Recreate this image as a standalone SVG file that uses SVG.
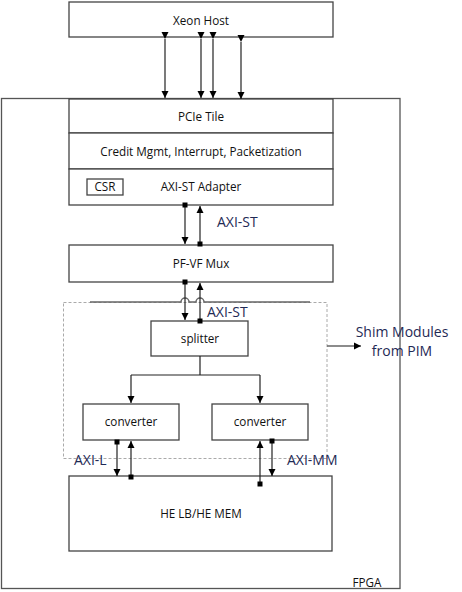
<svg xmlns="http://www.w3.org/2000/svg" width="462" height="592" viewBox="0 0 462 592">
<defs>
<marker id="ah" markerWidth="8" markerHeight="8" refX="7" refY="4" orient="auto" markerUnits="userSpaceOnUse">
<path d="M0,0.5 L7,4 L0,7.5 Z" fill="#000"/>
</marker>
<marker id="sq" markerWidth="6" markerHeight="6" refX="3" refY="3" orient="auto" markerUnits="userSpaceOnUse">
<rect x="0.5" y="0.5" width="5" height="5" fill="#000"/>
</marker>
</defs>
<style>
.box{fill:#fff;stroke:#444;stroke-width:1.3}
.t{font-family:"Open Sans","DejaVu Sans",sans-serif;font-size:11.7px;fill:#111;text-anchor:middle}
.lbl{font-family:"Open Sans","DejaVu Sans",sans-serif;font-size:14px;fill:#1f2a55}
.c{stroke:#222;stroke-width:1.2;fill:none}
.g{stroke:#666;stroke-width:1.5;fill:none}
</style>
<g id="fpga">
<rect x="1.5" y="98.5" width="398.5" height="490" fill="#fff" stroke="#555" stroke-width="1.3"/>
<text x="367" y="587" class="t">FPGA</text>
</g>
<g id="shim">
<rect x="63.5" y="302.5" width="263.5" height="156" fill="none" stroke="#aaa" stroke-width="1" stroke-dasharray="3,2"/>
</g>
<g id="xeon">
<rect class="box" x="69" y="2" width="264" height="35"/>
<text class="t" x="201" y="25">Xeon Host</text>
</g>
<g id="pcie">
<rect class="box" x="69" y="99" width="264" height="34"/>
<text class="t" x="201" y="121">PCIe Tile</text>
</g>
<g id="credit">
<rect class="box" x="69" y="133" width="264" height="36"/>
<text class="t" x="201" y="156">Credit Mgmt, Interrupt, Packetization</text>
</g>
<g id="adapter">
<rect class="box" x="69" y="169" width="264" height="36"/>
<text class="t" x="201" y="191">AXI-ST Adapter</text>
</g>
<g id="csr">
<rect class="box" x="87" y="179" width="36" height="16"/>
<text class="t" x="105" y="191">CSR</text>
</g>
<g id="pfvf">
<rect class="box" x="69" y="245" width="264" height="37"/>
<text class="t" x="201" y="268">PF-VF Mux</text>
</g>
<g id="splitter">
<rect class="box" x="151" y="321" width="97" height="35"/>
<text class="t" x="200" y="343">splitter</text>
</g>
<g id="conv1">
<rect class="box" x="83" y="404" width="96" height="36"/>
<text class="t" x="131" y="426">converter</text>
</g>
<g id="conv2">
<rect class="box" x="212" y="404" width="96" height="36"/>
<text class="t" x="260" y="426">converter</text>
</g>
<g id="he">
<rect class="box" x="69" y="476" width="263" height="75"/>
<text class="t" x="201" y="518">HE LB/HE MEM</text>
</g>
<g id="connectors">
<line class="c" x1="165" y1="39" x2="165" y2="98" marker-start="url(#ah)" marker-end="url(#ah)"/>
<line class="c" x1="201" y1="39" x2="201" y2="98" marker-start="url(#ah)" marker-end="url(#ah)"/>
<line class="c" x1="213" y1="39" x2="213" y2="98" marker-start="url(#ah)" marker-end="url(#ah)"/>
<line class="c" x1="241" y1="42" x2="241" y2="99" marker-start="url(#ah)" marker-end="url(#ah)"/>
<line class="c" x1="185" y1="205" x2="185" y2="244" marker-start="url(#sq)" marker-end="url(#ah)"/>
<line class="c" x1="200" y1="244" x2="200" y2="206" marker-start="url(#sq)" marker-end="url(#ah)"/>
<path class="g" d="M90,302 H181 A4,4 0 0 1 189,302 H196 A4,4 0 0 1 204,302 H310"/>
<line class="c" x1="185" y1="282" x2="185" y2="320" marker-start="url(#sq)" marker-end="url(#ah)"/>
<line class="c" x1="200" y1="321" x2="200" y2="283" marker-start="url(#sq)" marker-end="url(#ah)"/>
<path class="c" d="M200,356 V375 M131,375 H260"/>
<line class="c" x1="131" y1="375" x2="131" y2="403" marker-end="url(#ah)"/>
<line class="c" x1="260" y1="375" x2="260" y2="403" marker-end="url(#ah)"/>
<line class="g" x1="327" y1="346" x2="361" y2="346" marker-end="url(#ah)"/>
<line class="c" x1="117" y1="442" x2="117" y2="476" marker-start="url(#sq)" marker-end="url(#ah)"/>
<line class="c" x1="131" y1="477" x2="131" y2="441" marker-start="url(#sq)" marker-end="url(#ah)"/>
<line class="c" x1="260" y1="484" x2="260" y2="441" marker-start="url(#sq)" marker-end="url(#ah)"/>
<line class="c" x1="272" y1="441" x2="272" y2="476" marker-start="url(#sq)" marker-end="url(#ah)"/>
</g>
<g id="labels">
<text class="lbl" x="217" y="227">AXI-ST</text>
<text class="lbl" x="207" y="317">AXI-ST</text>
<text class="lbl" x="74" y="465">AXI-L</text>
<text class="lbl" x="287" y="465">AXI-MM</text>
<text class="lbl" x="402" y="337" text-anchor="middle" fill="#111">Shim Modules</text>
<text class="lbl" x="402" y="356" text-anchor="middle" fill="#111">from PIM</text>
</g>
</svg>
